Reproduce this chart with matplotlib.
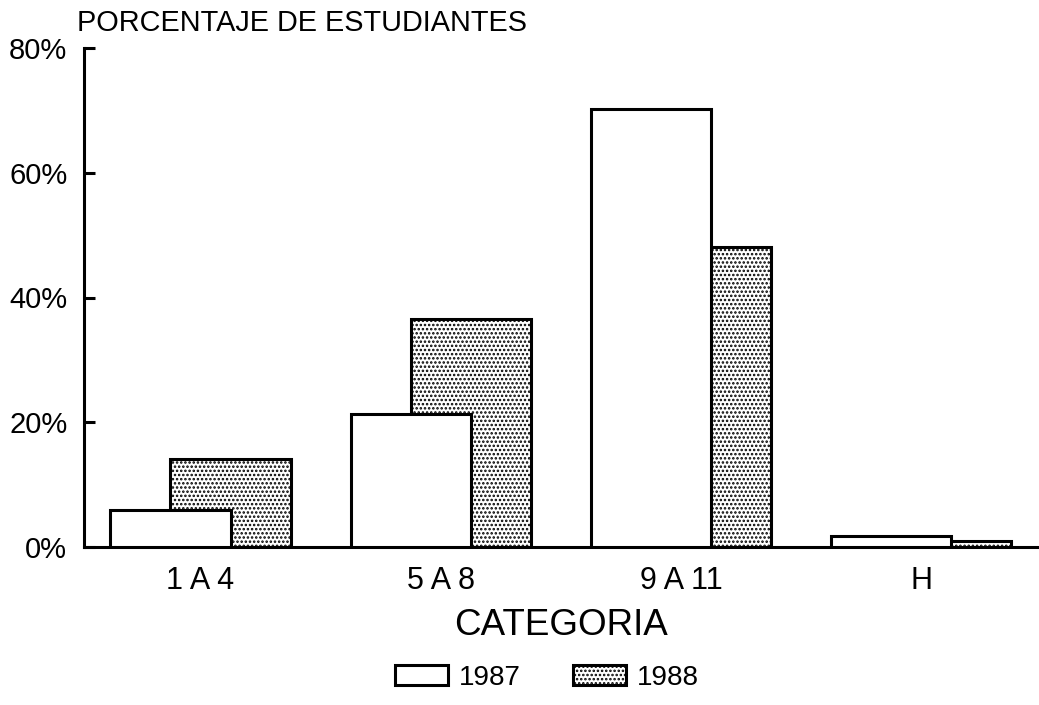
import matplotlib
matplotlib.use("Agg")
import matplotlib.pyplot as plt
import numpy as np

categories = ["1 A 4", "5 A 8", "9 A 11", "H"]
series_names = ["1987", "1988"]
values_1987 = [6.0, 21.3, 70.3, 1.7]
values_1988 = [14.1, 36.6, 48.1, 0.9]
yticks = [0, 20, 40, 60, 80]
ytick_labels = ["0%", "20%", "40%", "60%", "80%"]
title_text = "PORCENTAJE DE ESTUDIANTES"
xlabel_text = "CATEGORIA"

plt.rcParams["font.family"] = ["Liberation Sans", "DejaVu Sans"]
plt.rcParams["hatch.linewidth"] = 1.2
plt.rcParams["hatch.color"] = "black"

fig = plt.figure(figsize=(10.39, 7.05), dpi=100)
ax = fig.add_axes([84/1039, 1-547/705, 1-84/1039, (547-48)/705])

x = np.arange(len(categories))
w = 0.5
b88 = ax.bar(x + 0.125, values_1988, width=w, facecolor="white", edgecolor="black",
             linewidth=2.2, hatch="....", label=series_names[1], zorder=2)
b87 = ax.bar(x - 0.125, values_1987, width=w, facecolor="white", edgecolor="black",
             linewidth=2.2, label=series_names[0], zorder=3)

ax.set_xlim(-0.485, 3.49)
ax.set_ylim(0, 80)
ax.set_yticks(yticks)
ax.set_yticklabels(ytick_labels, fontsize=21)
ax.set_xticks(x)
ax.set_xticklabels(categories, fontsize=22)
ax.tick_params(axis="y", direction="in", length=8, width=2.2, pad=12)
ax.tick_params(axis="x", length=0, pad=14)
for s in ["top", "right"]:
    ax.spines[s].set_visible(False)
ax.spines["left"].set_linewidth(2.2)
ax.spines["bottom"].set_linewidth(2.2)

ax.set_xlabel(xlabel_text, fontsize=26.5, labelpad=8)

fig.text(77/1039, 1-31/705, title_text, fontsize=20.8, ha="left", va="baseline")

fig.legend(handles=[b87, b88], labels=series_names, loc="center",
           bbox_to_anchor=(547/1039, 1-678/705), ncol=2, frameon=False,
           fontsize=20, handlelength=1.9, handleheight=0.72,
           handletextpad=0.4, columnspacing=1.9)

fig.savefig("out.png", dpi=100)
